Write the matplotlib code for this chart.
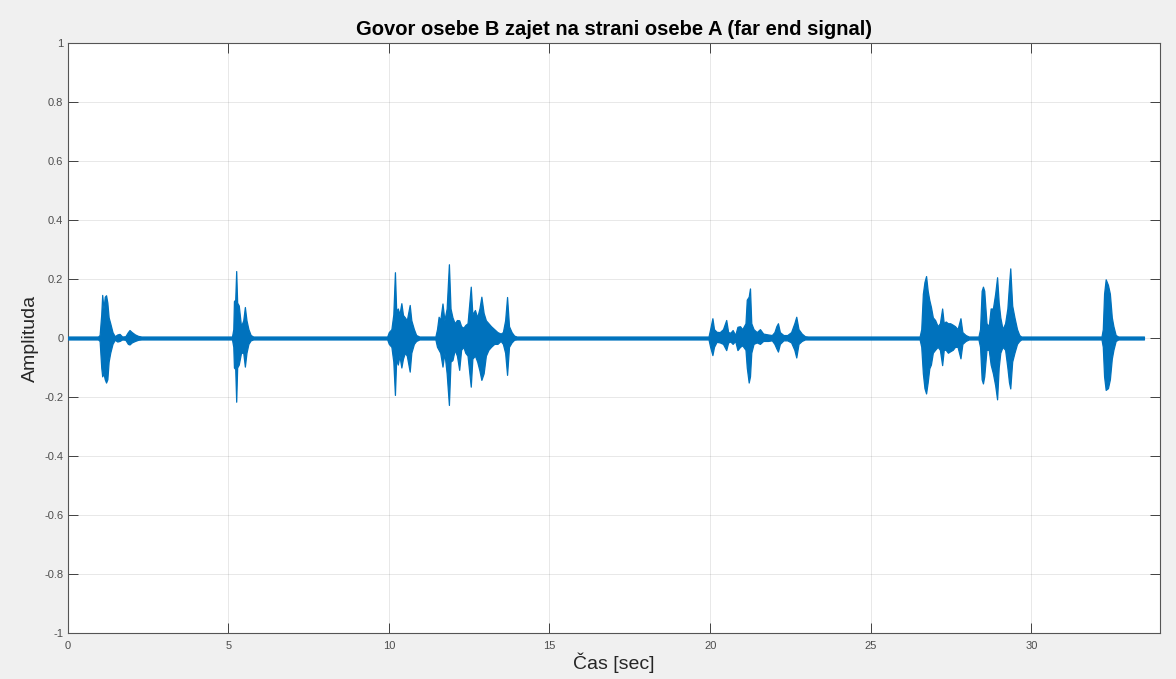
import matplotlib
matplotlib.use('Agg')
import matplotlib.pyplot as plt
import numpy as np

plt.rcParams['font.family'] = ['Liberation Sans', 'DejaVu Sans']

env_t = [0.00, 0.95, 1.00, 1.05, 1.08, 1.12, 1.16, 1.20, 1.24, 1.28, 1.33, 1.40, 1.47, 1.55, 1.62,
         1.70, 1.80, 1.88, 1.93, 2.00, 2.10, 2.20, 2.30,
         5.12, 5.16, 5.18, 5.22, 5.25, 5.28, 5.33, 5.40, 5.47, 5.52, 5.57, 5.63, 5.70, 5.78,
         9.95, 10.00, 10.08, 10.14, 10.19, 10.23, 10.28, 10.33, 10.39, 10.44, 10.50, 10.56, 10.65,
         10.70, 10.78, 10.85, 10.95,
         11.45, 11.50, 11.55, 11.60, 11.67, 11.73, 11.80, 11.87, 11.92, 11.98, 12.05, 12.12, 12.19,
         12.25, 12.32, 12.38, 12.45, 12.55, 12.60, 12.68, 12.75, 12.82, 12.88, 12.95, 13.02, 13.10,
         13.18, 13.28, 13.38, 13.48, 13.55, 13.62, 13.68, 13.74, 13.82, 13.90, 13.98,
         19.95, 20.00, 20.07, 20.12, 20.20, 20.30, 20.40, 20.50, 20.56, 20.63, 20.70, 20.78, 20.85,
         20.93, 21.00, 21.10, 21.14, 21.20, 21.24, 21.28, 21.35, 21.45, 21.55, 21.65, 21.80, 21.92,
         22.00, 22.06, 22.11, 22.17, 22.28, 22.40, 22.52, 22.62, 22.68, 22.75, 22.85, 22.95, 23.05,
         26.52, 26.57, 26.62, 26.67, 26.72, 26.77, 26.82, 26.87, 26.93, 27.00, 27.08, 27.15, 27.22,
         27.27, 27.33, 27.40, 27.47, 27.55, 27.62, 27.70, 27.79, 27.85, 27.95, 28.05,
         28.35, 28.40, 28.45, 28.49, 28.53, 28.60, 28.67, 28.73, 28.80, 28.87, 28.93, 28.98, 29.03,
         29.10, 29.18, 29.25, 29.30, 29.34, 29.40, 29.47, 29.55, 29.62, 29.68,
         32.18, 32.22, 32.26, 32.31, 32.38, 32.44, 32.50, 32.55, 32.62, 32.70, 33.50]
env_hi = [0.005, 0.005, 0.01, 0.08, 0.146, 0.10, 0.14, 0.145, 0.12, 0.07, 0.05, 0.02, 0.006, 0.012, 0.014,
          0.005, 0.006, 0.02, 0.027, 0.02, 0.012, 0.007, 0.005,
          0.005, 0.03, 0.125, 0.13, 0.227, 0.12, 0.11, 0.04, 0.06, 0.105, 0.06, 0.03, 0.01, 0.005,
          0.005, 0.02, 0.03, 0.08, 0.223, 0.09, 0.10, 0.08, 0.118, 0.078, 0.07, 0.06, 0.112,
          0.06, 0.03, 0.01, 0.005,
          0.005, 0.03, 0.072, 0.06, 0.117, 0.06, 0.10, 0.25, 0.10, 0.07, 0.05, 0.061, 0.06,
          0.04, 0.035, 0.044, 0.05, 0.174, 0.08, 0.095, 0.07, 0.10, 0.14, 0.085, 0.06, 0.05,
          0.04, 0.03, 0.02, 0.015, 0.02, 0.06, 0.139, 0.04, 0.02, 0.008, 0.005,
          0.005, 0.03, 0.067, 0.03, 0.021, 0.02, 0.03, 0.061, 0.02, 0.018, 0.027, 0.01, 0.038,
          0.04, 0.03, 0.05, 0.13, 0.14, 0.168, 0.05, 0.03, 0.02, 0.03, 0.015, 0.012, 0.01,
          0.02, 0.04, 0.05, 0.02, 0.01, 0.01, 0.02, 0.05, 0.072, 0.03, 0.015, 0.006, 0.005,
          0.005, 0.03, 0.15, 0.19, 0.21, 0.16, 0.129, 0.106, 0.07, 0.061, 0.04, 0.05, 0.10,
          0.05, 0.056, 0.05, 0.05, 0.045, 0.04, 0.03, 0.067, 0.02, 0.01, 0.005,
          0.005, 0.03, 0.16, 0.174, 0.16, 0.05, 0.04, 0.10, 0.10, 0.15, 0.206, 0.12, 0.07,
          0.03, 0.05, 0.10, 0.18, 0.236, 0.11, 0.07, 0.03, 0.01, 0.005,
          0.005, 0.03, 0.15, 0.199, 0.18, 0.15, 0.07, 0.04, 0.01, 0.005, 0.005]
env_lo = [-0.005, -0.005, -0.01, -0.10, -0.13, -0.12, -0.14, -0.151, -0.14, -0.08, -0.05, -0.02, -0.006, -0.012, -0.01,
          -0.005, -0.006, -0.02, -0.022, -0.015, -0.01, -0.006, -0.005,
          -0.005, -0.03, -0.10, -0.105, -0.216, -0.10, -0.09, -0.05, -0.05, -0.097, -0.05, -0.02, -0.008, -0.005,
          -0.005, -0.02, -0.03, -0.08, -0.193, -0.07, -0.09, -0.06, -0.10, -0.07, -0.05, -0.06, -0.114,
          -0.05, -0.02, -0.01, -0.005,
          -0.005, -0.03, -0.04, -0.05, -0.097, -0.05, -0.12, -0.227, -0.08, -0.075, -0.04, -0.06, -0.108,
          -0.04, -0.03, -0.05, -0.06, -0.165, -0.07, -0.06, -0.08, -0.11, -0.142, -0.12, -0.06, -0.04,
          -0.03, -0.02, -0.02, -0.01, -0.02, -0.05, -0.125, -0.03, -0.015, -0.006, -0.005,
          -0.005, -0.03, -0.058, -0.03, -0.013, -0.015, -0.02, -0.041, -0.015, -0.012, -0.02, -0.01, -0.041,
          -0.03, -0.025, -0.04, -0.10, -0.151, -0.13, -0.05, -0.02, -0.015, -0.02, -0.01, -0.01, -0.008,
          -0.02, -0.035, -0.046, -0.02, -0.008, -0.008, -0.015, -0.04, -0.066, -0.02, -0.01, -0.005, -0.005,
          -0.005, -0.03, -0.12, -0.17, -0.188, -0.15, -0.103, -0.09, -0.05, -0.04, -0.03, -0.04, -0.092,
          -0.04, -0.04, -0.05, -0.045, -0.04, -0.03, -0.03, -0.069, -0.02, -0.01, -0.005,
          -0.005, -0.03, -0.14, -0.154, -0.13, -0.04, -0.04, -0.09, -0.12, -0.16, -0.208, -0.10, -0.05,
          -0.03, -0.04, -0.10, -0.15, -0.171, -0.08, -0.05, -0.02, -0.01, -0.005,
          -0.005, -0.03, -0.13, -0.176, -0.17, -0.14, -0.07, -0.04, -0.01, -0.005, -0.005]

x_ticks = [0, 5, 10, 15, 20, 25, 30]
y_ticks = [-1, -0.8, -0.6, -0.4, -0.2, 0, 0.2, 0.4, 0.6, 0.8, 1]
y_labels = ['-1', '-0.8', '-0.6', '-0.4', '-0.2', '0', '0.2', '0.4', '0.6', '0.8', '1']

blue = '#0072BD'

fig = plt.figure(figsize=(11.76, 6.79), dpi=100, facecolor='#f0f0f0')
ax = fig.add_axes([67.5/1176, 46/679, (1160-67.5)/1176, 590/679])
ax.set_facecolor('white')

ax.fill_between(env_t, env_lo, env_hi, color=blue, edgecolor=blue, lw=0.9, zorder=3)

ax.set_xlim(0, 34)
ax.set_ylim(-1, 1)
ax.set_xticks(x_ticks)
ax.set_yticks(y_ticks)
ax.set_yticklabels(y_labels)

ax.grid(True, color='#262626', alpha=0.12, lw=0.6)
ax.set_axisbelow(True)
ax.tick_params(direction='in', length=7, width=0.7, top=True, right=True,
               labelsize=8, color='#404040', labelcolor='#4d4d4d')
ax.tick_params(axis='x', pad=6)
ax.tick_params(axis='y', pad=3)
for s in ax.spines.values():
    s.set_color('#555555')
    s.set_linewidth(0.8)

ax.set_title('Govor osebe B zajet na strani osebe A (far end signal)',
             fontsize=14.5, fontweight='bold', pad=6)
ax.set_xlabel('Čas [sec]', fontsize=14, color='#262626', labelpad=1)
ax.set_ylabel('Amplituda', fontsize=14, color='#262626', labelpad=4)

fig.savefig('out.png', dpi=100, facecolor=fig.get_facecolor())
